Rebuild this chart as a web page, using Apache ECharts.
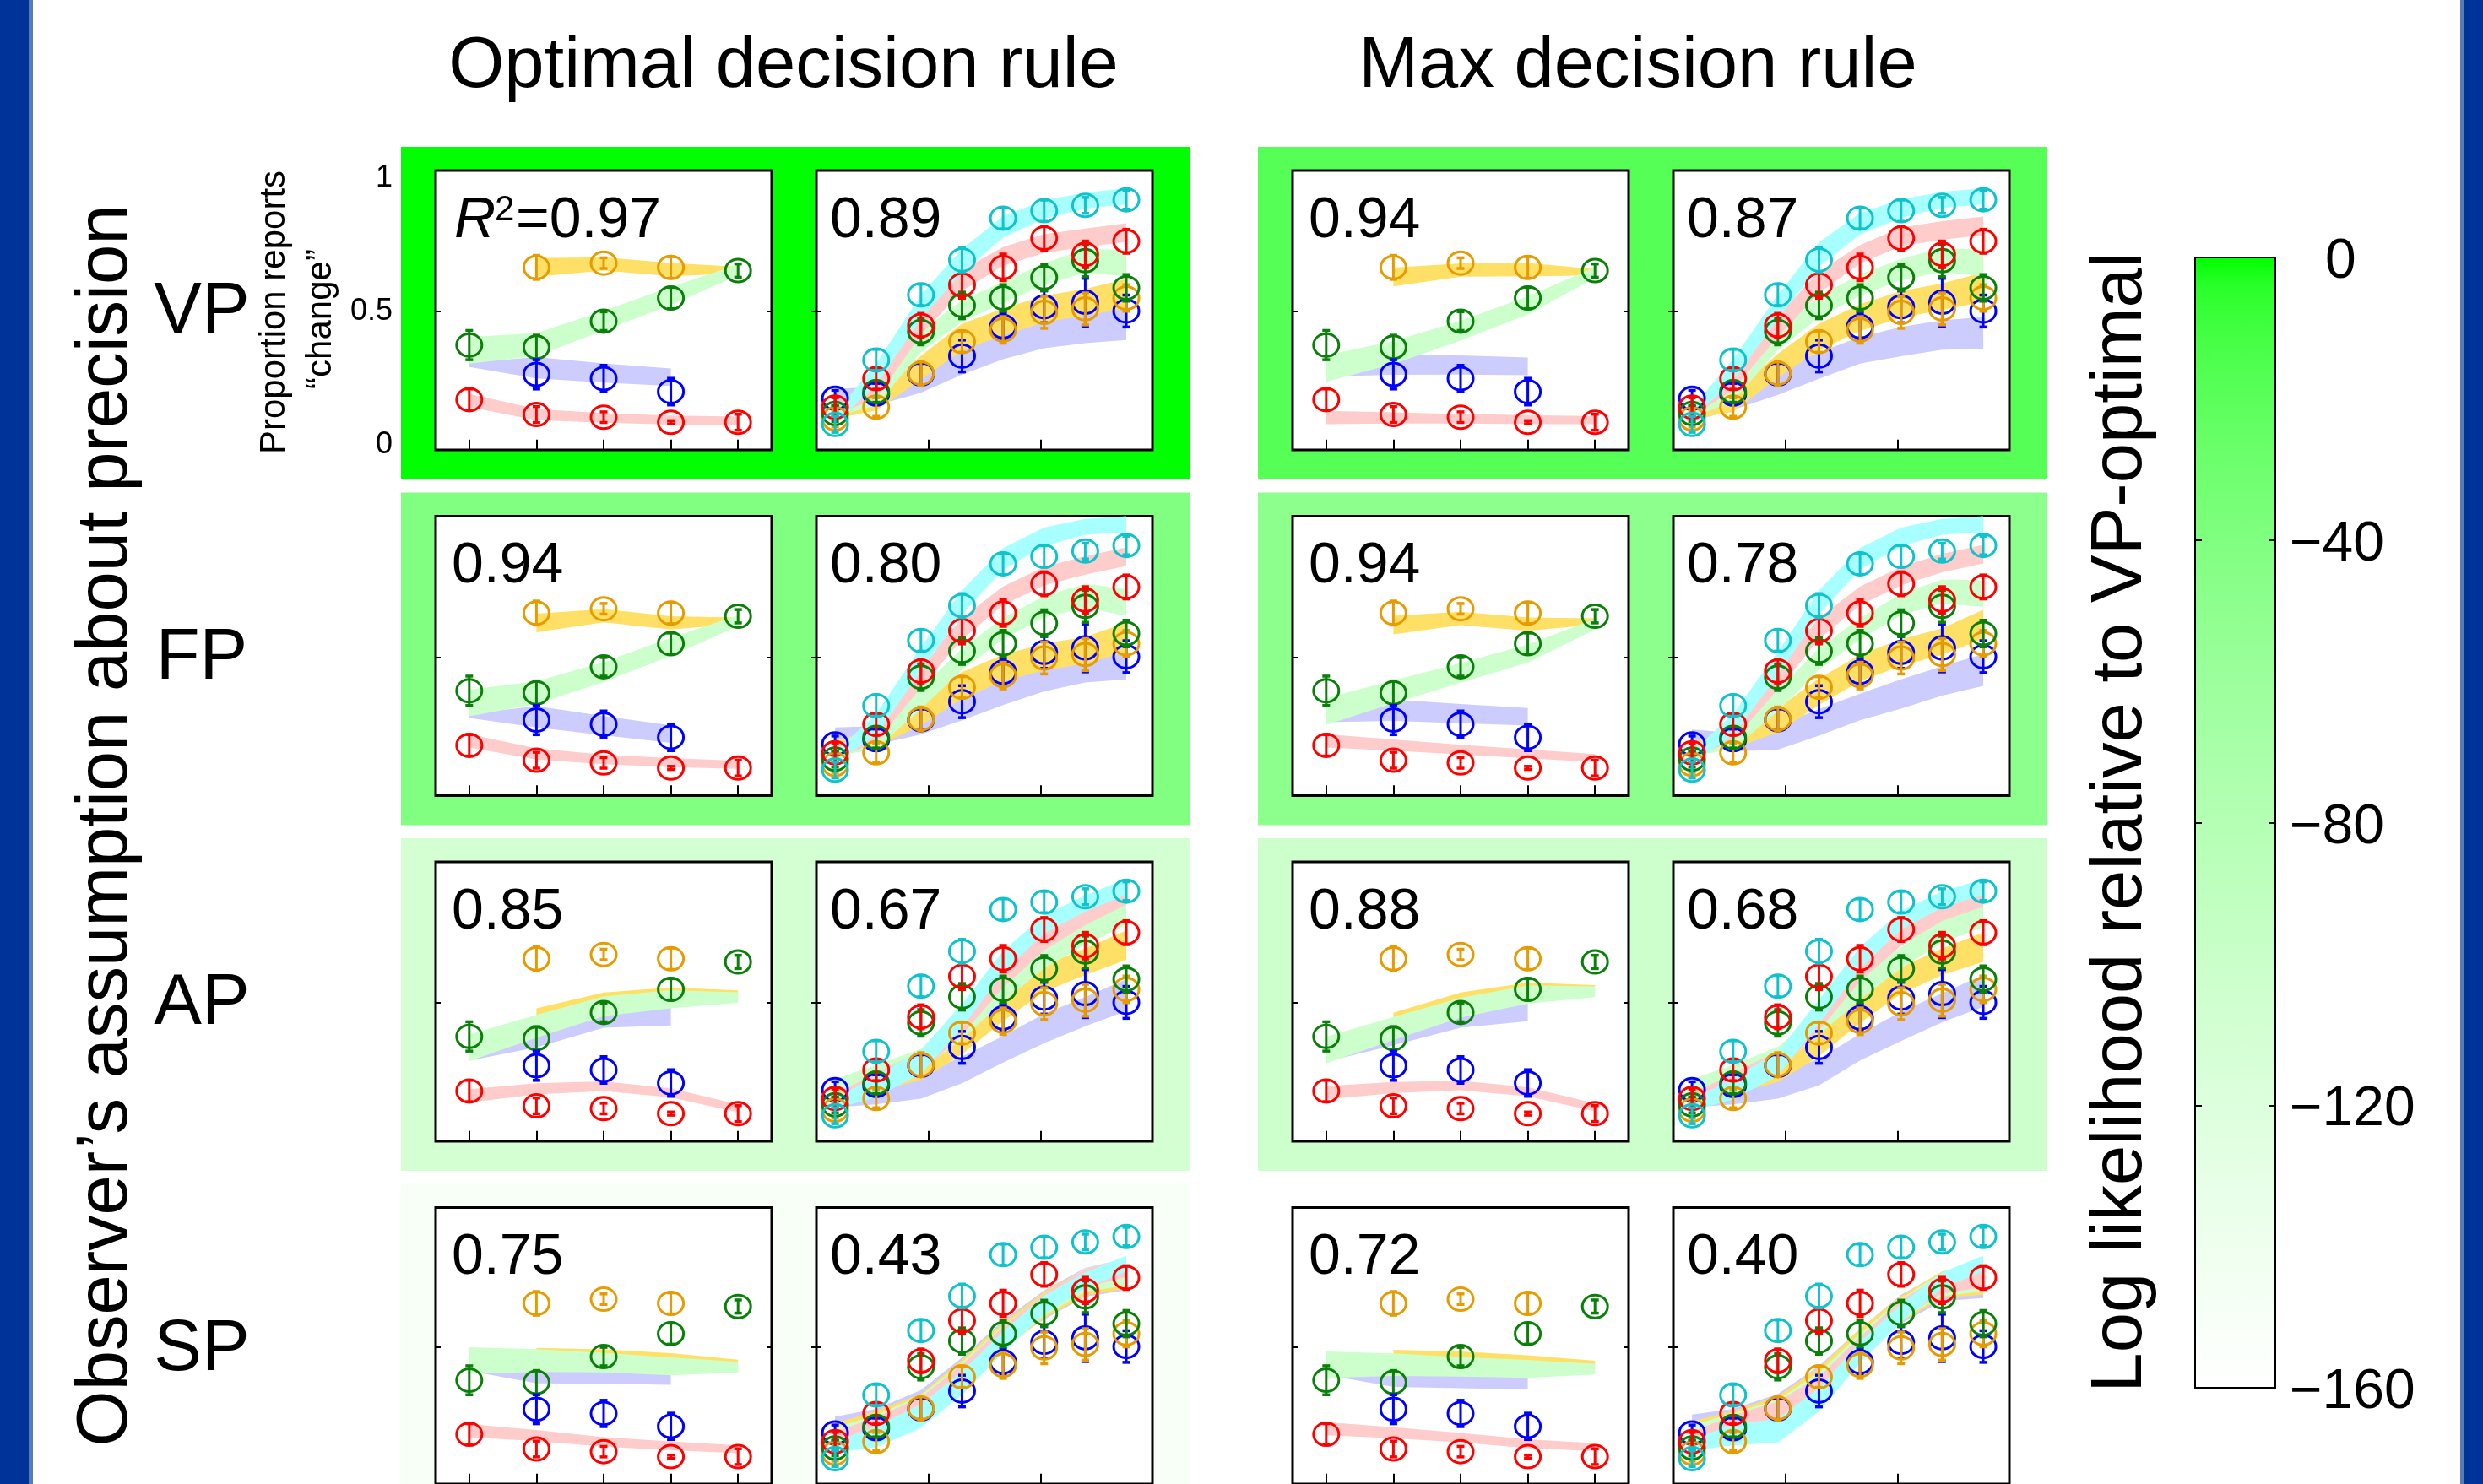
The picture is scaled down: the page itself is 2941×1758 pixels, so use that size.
<!DOCTYPE html>
<html>
<head>
<meta charset="utf-8">
<title>Change detection: model fits by precision assumption and decision rule</title>
<script src="https://cdn.jsdelivr.net/npm/echarts@6.0.0/dist/echarts.min.js"></script>
<style>
  html, body { margin: 0; padding: 0; background: #ffffff; }
  #chart { width: 2941px; height: 1758px; }
</style>
</head>
<body>
<div id="chart"></div>
<script>
// ---------------- data ----------------
const rowLabels = ['VP', 'FP', 'AP', 'SP'];
const ruleTitles = ['Optimal decision rule', 'Max decision rule'];
const leftCategories = ['1', '2', '3', '4', '5'];
const rightX = [5, 16, 28, 39, 50, 61, 72, 83];
const yTickLabels = [0, 0.5, 1];
const colorbarTicks = [0, -40, -80, -120, -160];

// goodness of fit per row: [left plot, right plot]
const r2Optimal = [[0.97, 0.89], [0.94, 0.80], [0.85, 0.67], [0.75, 0.43]];
const r2Max     = [[0.94, 0.87], [0.94, 0.78], [0.88, 0.68], [0.72, 0.40]];
// log likelihood relative to VP-optimal, per row
const logLikOptimal = [0, -40, -110, -150];
const logLikMax     = [-18, -48, -102, -160];

// observed proportion of "change" reports, left plot (x = 1..5)
const obsLeftOrange = [null, 0.666, 0.682, 0.666, null];
const obsLeftGreen  = [0.374, 0.366, 0.464, 0.551, 0.654];
const obsLeftBlue   = [null, 0.264, 0.248, 0.199, null];
const obsLeftRed    = [0.169, 0.113, 0.103, 0.084, 0.084];
const semLeftOrange = [null, 0.045, 0.02, 0.04, null];
const semLeftGreen  = [0.055, 0.045, 0.035, 0.04, 0.025];
const semLeftBlue   = [null, 0.055, 0.05, 0.05, null];
const semLeftRed    = [0.04, 0.03, 0.02, 0.006, 0.03];

// observed proportion of "change" reports, right plot (x = change magnitude)
const obsRightCyan   = [0.076, 0.318, 0.563, 0.694, 0.851, 0.879, 0.899, 0.920];
const obsRightRed    = [0.141, 0.248, 0.448, 0.600, 0.666, 0.776, 0.715, 0.764];
const obsRightGreen  = [0.117, 0.199, 0.425, 0.523, 0.551, 0.628, 0.691, 0.589];
const obsRightOrange = [0.097, 0.141, 0.268, 0.387, 0.431, 0.497, 0.510, 0.551];
const obsRightBlue   = [0.174, 0.190, 0.265, 0.333, 0.444, 0.518, 0.535, 0.502];
const semRightCyan   = [0.03, 0.04, 0.04, 0.045, 0.04, 0.04, 0.03, 0.035];
const semRightRed    = [0.035, 0.04, 0.045, 0.05, 0.05, 0.045, 0.05, 0.045];
const semRightGreen  = [0.03, 0.04, 0.05, 0.05, 0.05, 0.05, 0.06, 0.05];
const semRightOrange = [0.03, 0.035, 0.045, 0.04, 0.05, 0.06, 0.06, 0.05];
const semRightBlue   = [0.03, 0.04, 0.04, 0.06, 0.05, 0.06, 0.09, 0.06];

// half-width of the model bands (left: orange, green, blue, red)
const halfLeftOrange = [null, 0.035, 0.025, 0.025, 0.012];
const halfLeftGreen  = [0.05, 0.043, 0.037, 0.034, 0.02];
const halfLeftBlue   = [0.008, 0.04, 0.036, 0.033, null];
const halfLeftRed    = [0.025, 0.021, 0.018, 0.017, 0.015];
// (right: cyan, red, green, orange, blue)
const halfRightCyan   = [0.02, 0.04, 0.045, 0.045, 0.04, 0.035, 0.03, 0.03];
const halfRightRed    = [0.02, 0.035, 0.04, 0.04, 0.035, 0.035, 0.035, 0.035];
const halfRightGreen  = [0.02, 0.035, 0.04, 0.04, 0.04, 0.04, 0.045, 0.05];
const halfRightOrange = [0.02, 0.035, 0.045, 0.05, 0.05, 0.05, 0.05, 0.055];
const halfRightBlue   = [0.03, 0.035, 0.045, 0.05, 0.05, 0.055, 0.055, 0.06];

// model predictions, left plot: [orange, green, blue, red]
const fitVPOptimalLeft = [
  [null, 0.666, 0.679, 0.658, 0.656],
  [0.354, 0.376, 0.466, 0.559, 0.656],
  [0.300, 0.289, 0.269, 0.253, null],
  [0.166, 0.113, 0.100, 0.092, 0.090]
];
const fitVPMaxLeft = [
  [null, 0.630, 0.656, 0.658, 0.648],
  [0.286, 0.346, 0.428, 0.523, 0.646],
  [0.264, 0.302, 0.299, 0.294, null],
  [0.102, 0.100, 0.097, 0.094, 0.092]
];
const fitFPOptimalLeft = [
  [null, 0.629, 0.656, 0.629, 0.637],
  [0.328, 0.367, 0.444, 0.539, 0.637],
  [0.280, 0.276, 0.243, 0.211, null],
  [0.186, 0.137, 0.116, 0.104, 0.096]
];
const fitFPMaxLeft = [
  [null, 0.621, 0.646, 0.624, 0.634],
  [0.296, 0.370, 0.441, 0.514, 0.624],
  [0.264, 0.301, 0.288, 0.276, null],
  [0.186, 0.170, 0.153, 0.137, 0.121]
];
const fitAPOptimalLeft = [
  [null, 0.445, 0.514, 0.533, 0.535],
  [0.331, 0.412, 0.487, 0.514, 0.520],
  [0.291, 0.373, 0.443, 0.448, null],
  [0.151, 0.177, 0.187, 0.162, 0.104]
];
const fitAPMaxLeft = [
  [null, 0.428, 0.514, 0.551, 0.555],
  [0.323, 0.404, 0.482, 0.531, 0.542],
  [0.287, 0.381, 0.443, 0.464, null],
  [0.163, 0.182, 0.190, 0.166, 0.108]
];
const fitSPOptimalLeft = [
  [null, 0.462, 0.466, 0.452, 0.440],
  [0.449, 0.449, 0.441, 0.427, 0.424],
  [0.418, 0.402, 0.397, 0.390, null],
  [0.183, 0.164, 0.140, 0.125, 0.112]
];
const fitSPMaxLeft = [
  [null, 0.455, 0.458, 0.444, 0.436],
  [0.433, 0.433, 0.425, 0.417, 0.416],
  [0.402, 0.389, 0.380, 0.372, null],
  [0.190, 0.175, 0.156, 0.133, 0.120]
];

// model predictions, right plot: [cyan, red, green, orange, blue]
const fitVPOptimalRight = [
  [0.100, 0.264, 0.518, 0.691, 0.818, 0.884, 0.917, 0.933],
  [0.133, 0.207, 0.453, 0.617, 0.707, 0.756, 0.777, 0.797],
  [0.125, 0.182, 0.387, 0.502, 0.572, 0.641, 0.691, 0.682],
  [0.117, 0.163, 0.289, 0.404, 0.461, 0.510, 0.535, 0.567],
  [0.179, 0.182, 0.240, 0.313, 0.371, 0.417, 0.436, 0.453]
];
const fitVPMaxRight = [
  [0.117, 0.281, 0.518, 0.715, 0.830, 0.887, 0.920, 0.933],
  [0.125, 0.240, 0.445, 0.609, 0.715, 0.781, 0.805, 0.822],
  [0.120, 0.199, 0.395, 0.518, 0.600, 0.658, 0.694, 0.682],
  [0.117, 0.158, 0.297, 0.404, 0.477, 0.527, 0.556, 0.592],
  [0.117, 0.166, 0.232, 0.297, 0.354, 0.387, 0.412, 0.420]
];
const fitFPOptimalRight = [
  [0.124, 0.247, 0.493, 0.706, 0.870, 0.952, 0.990, 1.000],
  [0.140, 0.214, 0.427, 0.608, 0.731, 0.805, 0.845, 0.878],
  [0.148, 0.190, 0.345, 0.493, 0.608, 0.690, 0.731, 0.706],
  [0.165, 0.198, 0.288, 0.395, 0.460, 0.501, 0.526, 0.575],
  [0.206, 0.206, 0.255, 0.313, 0.370, 0.427, 0.460, 0.477]
];
const fitFPMaxRight = [
  [0.124, 0.247, 0.476, 0.706, 0.870, 0.952, 0.990, 1.000],
  [0.140, 0.222, 0.419, 0.608, 0.731, 0.805, 0.854, 0.887],
  [0.148, 0.190, 0.337, 0.493, 0.608, 0.698, 0.747, 0.739],
  [0.157, 0.190, 0.264, 0.370, 0.460, 0.518, 0.559, 0.624],
  [0.198, 0.181, 0.198, 0.255, 0.313, 0.362, 0.411, 0.452]
];
const fitAPOptimalRight = [
  [0.122, 0.185, 0.279, 0.451, 0.655, 0.795, 0.874, 0.936],
  [0.138, 0.201, 0.279, 0.420, 0.592, 0.733, 0.827, 0.905],
  [0.193, 0.232, 0.287, 0.404, 0.545, 0.670, 0.764, 0.843],
  [0.154, 0.201, 0.256, 0.357, 0.482, 0.592, 0.655, 0.717],
  [0.138, 0.154, 0.185, 0.248, 0.326, 0.404, 0.467, 0.529]
];
const fitAPMaxRight = [
  [0.115, 0.177, 0.271, 0.467, 0.670, 0.811, 0.889, 0.936],
  [0.138, 0.201, 0.279, 0.436, 0.616, 0.749, 0.843, 0.897],
  [0.193, 0.232, 0.295, 0.420, 0.553, 0.670, 0.772, 0.835],
  [0.154, 0.193, 0.248, 0.349, 0.475, 0.584, 0.655, 0.709],
  [0.138, 0.154, 0.185, 0.240, 0.334, 0.412, 0.482, 0.545]
];
const fitSPOptimalRight = [
  [0.120, 0.159, 0.238, 0.363, 0.519, 0.660, 0.754, 0.817],
  [0.159, 0.198, 0.269, 0.394, 0.543, 0.668, 0.762, 0.801],
  [0.175, 0.206, 0.277, 0.402, 0.543, 0.660, 0.754, 0.785],
  [0.190, 0.222, 0.277, 0.402, 0.543, 0.660, 0.746, 0.777],
  [0.206, 0.230, 0.292, 0.410, 0.551, 0.660, 0.746, 0.777]
];
const fitSPMaxRight = [
  [0.128, 0.167, 0.183, 0.300, 0.480, 0.629, 0.754, 0.817],
  [0.159, 0.206, 0.253, 0.347, 0.504, 0.644, 0.738, 0.762],
  [0.183, 0.214, 0.261, 0.363, 0.512, 0.644, 0.738, 0.762],
  [0.198, 0.222, 0.269, 0.371, 0.519, 0.644, 0.738, 0.754],
  [0.214, 0.230, 0.277, 0.378, 0.519, 0.644, 0.730, 0.746]
];

// ---------------- styling ----------------
const FONT = 'Liberation Sans, Arial, Helvetica, sans-serif';
const markColor = { orange: '#e69b00', green: '#0a7f0a', blue: '#0000ff', red: '#ff0000', cyan: '#10c2cc' };
const bandColor = { orange: '#ffe066', green: '#ccffcc', blue: '#ccccff', red: '#ffcccc', cyan: '#a8ffff' };

const leftSeriesKeys  = ['orange', 'green', 'blue', 'red'];
const rightSeriesKeys = ['cyan', 'red', 'green', 'orange', 'blue'];
const leftBandOrder  = [2, 0, 3, 1];     // blue, orange, red, green (green on top)
const rightBandOrder = [4, 3, 2, 1, 0];  // blue, orange, green, red, cyan
const leftHalf  = [halfLeftOrange, halfLeftGreen, halfLeftBlue, halfLeftRed];
const rightHalf = [halfRightCyan, halfRightRed, halfRightGreen, halfRightOrange, halfRightBlue];

const leftObs  = [obsLeftOrange, obsLeftGreen, obsLeftBlue, obsLeftRed];
const leftSem  = [semLeftOrange, semLeftGreen, semLeftBlue, semLeftRed];
const rightObs = [obsRightCyan, obsRightRed, obsRightGreen, obsRightOrange, obsRightBlue];
const rightSem = [semRightCyan, semRightRed, semRightGreen, semRightOrange, semRightBlue];
const leftPointOrder  = [0, 1, 2, 3];
const rightPointOrder = [4, 3, 2, 1, 0];

const fitsLeft = [
  [fitVPOptimalLeft, fitVPMaxLeft], [fitFPOptimalLeft, fitFPMaxLeft],
  [fitAPOptimalLeft, fitAPMaxLeft], [fitSPOptimalLeft, fitSPMaxLeft]
];
const fitsRight = [
  [fitVPOptimalRight, fitVPMaxRight], [fitFPOptimalRight, fitFPMaxRight],
  [fitAPOptimalRight, fitAPMaxRight], [fitSPOptimalRight, fitSPMaxRight]
];

// colour scale shared by the panels and the colour bar
function likelihoodColor(ll) {
  const f = Math.min(1, Math.max(0, -ll / 160));
  const c = Math.round(255 * Math.sqrt(f));
  return 'rgb(' + c + ',255,' + c + ')';
}

// ---------------- layout ----------------
const L = {
  panelLeft0: 475, colPitch: 1015, panelTop0: 174, rowPitch: 409.5,
  panelW: 935, panelH: 394, boxDX: [41, 492], boxDY: 28, boxW: 398, boxH: 331
};
const MARK = { rx: 15, ry: 13.5, width: 3, cap: 4.5 };

const grid = [], xAxis = [], yAxis = [], series = [], graphic = [];
const tickStyle = { show: true, inside: true, length: 6, lineStyle: { color: '#000', width: 2 } };

function addSubplot(rect, kind, showYLabels) {
  const gi = grid.length;
  grid.push({
    left: rect.x, top: rect.y, width: rect.w, height: rect.h,
    show: true, backgroundColor: '#ffffff', borderColor: '#000000', borderWidth: 3
  });
  const xi = xAxis.length;
  ['bottom', 'top'].forEach(pos => {
    const base = kind === 'left'
      ? { type: 'category', data: leftCategories, boundaryGap: true,
          axisTick: Object.assign({}, tickStyle, { alignWithLabel: true, interval: 0 }) }
      : { type: 'value', min: 0, max: 90, interval: 30, axisTick: tickStyle };
    xAxis.push(Object.assign(base, {
      gridIndex: gi, position: pos, z: 5,
      axisLine: { show: false }, axisLabel: { show: false }, splitLine: { show: false }
    }));
  });
  const yi = yAxis.length;
  ['left', 'right'].forEach((pos, k) => {
    yAxis.push({
      type: 'value', gridIndex: gi, position: pos, min: -0.02, max: 1.03, z: 5,
      axisLine: { show: false }, splitLine: { show: false },
      axisTick: Object.assign({}, tickStyle, { customValues: [0.5] }),
      axisLabel: (showYLabels && k === 0)
        ? { show: true, customValues: yTickLabels, margin: 51, fontSize: 36, color: '#000', fontFamily: FONT }
        : { show: false }
    });
  });
  return { xi, yi };
}

function bandSeries(ax, fits, halves, keys, order, xs) {
  return {
    type: 'custom', xAxisIndex: ax.xi, yAxisIndex: ax.yi, z: 2, silent: true,
    data: order.map(k => [k, 0.5]),
    renderItem(params, api) {
      const k = order[params.dataIndex];
      const c = fits[k], w = halves[k];
      const upper = [], lower = [];
      for (let j = 0; j < c.length; j++) {
        if (c[j] == null) continue;
        const x = xs ? xs[j] : j;
        upper.push(api.coord([x, c[j] + w[j]]));
        lower.unshift(api.coord([x, c[j] - w[j]]));
      }
      return { type: 'polygon', shape: { points: upper.concat(lower) }, style: { fill: bandColor[keys[k]] } };
    }
  };
}

function pointSeries(ax, obs, sems, keys, order, xs) {
  const data = [];
  order.forEach(k => {
    obs[k].forEach((v, j) => {
      if (v == null) return;
      data.push([xs ? xs[j] : j, v, sems[k][j], k]);
    });
  });
  return {
    type: 'custom', xAxisIndex: ax.xi, yAxisIndex: ax.yi, z: 3, silent: true,
    encode: { x: 0, y: 1 },
    data: data,
    renderItem(params, api) {
      const x = api.value(0), m = api.value(1), e = api.value(2);
      const col = markColor[keys[api.value(3)]];
      const p = api.coord([x, m]);
      const yTop = api.coord([x, m + e])[1];
      const yBot = api.coord([x, m - e])[1];
      return {
        type: 'group',
        children: [
          { type: 'ellipse', shape: { cx: p[0], cy: p[1], rx: MARK.rx, ry: MARK.ry },
            style: { fill: 'none', stroke: col, lineWidth: MARK.width } },
          { type: 'line', shape: { x1: p[0], y1: yTop, x2: p[0], y2: yBot },
            style: { stroke: col, lineWidth: MARK.width } },
          { type: 'line', shape: { x1: p[0] - MARK.cap, y1: yTop, x2: p[0] + MARK.cap, y2: yTop },
            style: { stroke: col, lineWidth: 3.5 } },
          { type: 'line', shape: { x1: p[0] - MARK.cap, y1: yBot, x2: p[0] + MARK.cap, y2: yBot },
            style: { stroke: col, lineWidth: 3.5 } }
        ]
      };
    }
  };
}

function text(x, y, str, size, extra) {
  return Object.assign({
    type: 'text', x: x, y: y, z: 10, silent: true,
    style: Object.assign({
      text: str, fill: '#000', fontSize: size, fontFamily: FONT,
      align: 'center', verticalAlign: 'middle', textAlign: 'center', textVerticalAlign: 'middle'
    }, extra && extra.style ? extra.style : {})
  }, extra && extra.el ? extra.el : {});
}

// page frame
graphic.push({ type: 'rect', z: -2, silent: true, shape: { x: 0, y: 0, width: 34, height: 1758 }, style: { fill: '#003399' } });
graphic.push({ type: 'rect', z: -2, silent: true, shape: { x: 34, y: 0, width: 5, height: 1758 }, style: { fill: '#5a7cb4' } });
graphic.push({ type: 'rect', z: -2, silent: true, shape: { x: 2914, y: 0, width: 5, height: 1758 }, style: { fill: '#5a7cb4' } });
graphic.push({ type: 'rect', z: -2, silent: true, shape: { x: 2919, y: 0, width: 22, height: 1758 }, style: { fill: '#003399' } });

// column titles and row labels
graphic.push(text(928, 80, ruleTitles[0], 85));
graphic.push(text(1940, 80, ruleTitles[1], 85));
rowLabels.forEach((lab, r) => graphic.push(text(239, 371 + r * L.rowPitch, lab, 85)));
graphic.push(text(127, 978, 'Observer\u2019s assumption about precision', 85, { el: { rotation: Math.PI / 2 } }));
graphic.push(text(325, 370, 'Proportion reports', 42, { el: { rotation: Math.PI / 2 } }));
graphic.push(text(380, 378, '\u201Cchange\u201D', 42, { el: { rotation: Math.PI / 2 } }));

// panels
for (let r = 0; r < 4; r++) {
  for (let c = 0; c < 2; c++) {
    const px = L.panelLeft0 + c * L.colPitch;
    const py = L.panelTop0 + r * L.rowPitch;
    const ll = c === 0 ? logLikOptimal[r] : logLikMax[r];
    graphic.push({ type: 'rect', z: -1, silent: true,
      shape: { x: px, y: py, width: L.panelW, height: L.panelH }, style: { fill: likelihoodColor(ll) } });
    const r2 = c === 0 ? r2Optimal[r] : r2Max[r];

    // left plot
    const lb = { x: px + L.boxDX[0], y: py + L.boxDY, w: L.boxW, h: L.boxH };
    const axL = addSubplot(lb, 'left', r === 0 && c === 0);
    series.push(bandSeries(axL, fitsLeft[r][c], leftHalf, leftSeriesKeys, leftBandOrder, null));
    series.push(pointSeries(axL, leftObs, leftSem, leftSeriesKeys, leftPointOrder, null));
    if (r === 0 && c === 0) {
      // R, superscript 2, then "=value"
      graphic.push(text(lb.x + 22, lb.y + 60, 'R', 68,
        { style: { align: 'left', textAlign: 'left', fontStyle: 'italic' } }));
      graphic.push(text(lb.x + 70, lb.y + 47, '2', 42, { style: { align: 'left', textAlign: 'left' } }));
      graphic.push(text(lb.x + 95, lb.y + 60, '=' + r2[0].toFixed(2), 68, { style: { align: 'left', textAlign: 'left' } }));
    } else {
      graphic.push(text(lb.x + 19, lb.y + 60, r2[0].toFixed(2), 68, { style: { align: 'left', textAlign: 'left' } }));
    }

    // right plot
    const rb = { x: px + L.boxDX[1], y: py + L.boxDY, w: L.boxW, h: L.boxH };
    const axR = addSubplot(rb, 'right', false);
    series.push(bandSeries(axR, fitsRight[r][c], rightHalf, rightSeriesKeys, rightBandOrder, rightX));
    series.push(pointSeries(axR, rightObs, rightSem, rightSeriesKeys, rightPointOrder, rightX));
    graphic.push(text(rb.x + 16, rb.y + 60, r2[1].toFixed(2), 68, { style: { align: 'left', textAlign: 'left' } }));
  }
}

// colour bar
const cbGrid = grid.length;
grid.push({ left: 2600, top: 305, width: 95, height: 1339, show: false });
const cbX = xAxis.length;
xAxis.push({ type: 'value', gridIndex: cbGrid, min: 0, max: 1, show: false });
const cbY = yAxis.length;
['left', 'right'].forEach((pos, k) => {
  yAxis.push({
    type: 'value', gridIndex: cbGrid, position: pos, min: -160, max: 0, interval: 40, z: 5,
    axisLine: { show: false }, splitLine: { show: false },
    axisTick: { show: true, inside: true, length: 8, lineStyle: { color: '#000', width: 2 } },
    axisLabel: k === 1 ? {
      show: true, margin: 17, fontSize: 66, fontFamily: FONT, color: '#000',
      padding: [12, 0, 0, 0],
      customValues: colorbarTicks,
      formatter: v => v === 0 ? '{z|0}' : '\u2212' + Math.abs(v),
      rich: { z: { fontSize: 66, fontFamily: FONT, color: '#000', padding: [0, 0, 0, 42] } }
    } : { show: false }
  });
});
const cbStops = [];
for (let i = 0; i <= 40; i++) {
  const t = i / 40;
  cbStops.push({ offset: t, color: likelihoodColor(-160 * t) });
}
series.push({
  type: 'custom', xAxisIndex: cbX, yAxisIndex: cbY, z: 1, silent: true,
  data: [[0, -160, 1, 0]],
  renderItem(params, api) {
    const p0 = api.coord([0, 0]);
    const p1 = api.coord([1, -160]);
    return {
      type: 'rect',
      shape: { x: p0[0], y: p0[1], width: p1[0] - p0[0], height: p1[1] - p0[1] },
      style: { fill: new echarts.graphic.LinearGradient(0, 0, 0, 1, cbStops), stroke: '#000', lineWidth: 2 }
    };
  }
});
graphic.push(text(2513, 974, 'Log likelihood relative to VP-optimal', 85, { el: { rotation: Math.PI / 2 } }));

const chart = echarts.init(document.getElementById('chart'), null, { renderer: 'canvas' });
chart.setOption({
  backgroundColor: '#ffffff',
  animation: false,
  grid: grid,
  xAxis: xAxis,
  yAxis: yAxis,
  series: series,
  graphic: { elements: graphic }
});
</script>
</body>
</html>
